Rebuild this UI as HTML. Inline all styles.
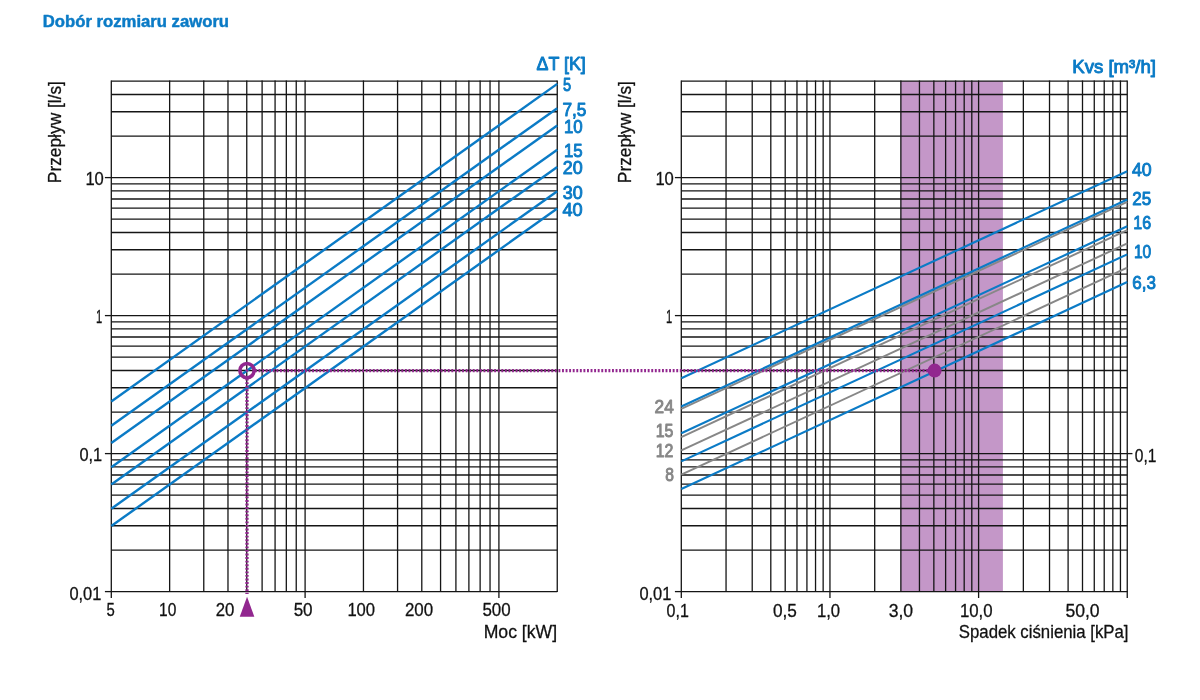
<!DOCTYPE html>
<html lang="pl"><head><meta charset="utf-8"><title>Dobór rozmiaru zaworu</title>
<style>
html,body{margin:0;padding:0;background:#fff;}
body{width:1200px;height:700px;overflow:hidden;}
svg{display:block;}
svg text{font-family:"Liberation Sans",sans-serif;}
</style></head><body>
<svg width="1200" height="700" viewBox="0 0 1200 700">
<rect width="1200" height="700" fill="#fff"/>
<rect x="900.72" y="81.10" width="102.18" height="510.50" fill="#c497c8"/>
<g stroke="#151515" stroke-width="1.3" fill="none">
<path d="M111.30 591.60H557.25"/>
<path d="M111.30 550.06H557.25"/>
<path d="M111.30 525.76H557.25"/>
<path d="M111.30 508.52H557.25"/>
<path d="M111.30 495.14H557.25"/>
<path d="M111.30 484.22H557.25"/>
<path d="M111.30 474.98H557.25"/>
<path d="M111.30 466.97H557.25"/>
<path d="M111.30 459.91H557.25"/>
<path d="M111.30 453.60H557.25"/>
<path d="M111.30 412.06H557.25"/>
<path d="M111.30 387.76H557.25"/>
<path d="M111.30 370.52H557.25"/>
<path d="M111.30 357.14H557.25"/>
<path d="M111.30 346.22H557.25"/>
<path d="M111.30 336.98H557.25"/>
<path d="M111.30 328.97H557.25"/>
<path d="M111.30 321.91H557.25"/>
<path d="M111.30 315.60H557.25"/>
<path d="M111.30 274.06H557.25"/>
<path d="M111.30 249.76H557.25"/>
<path d="M111.30 232.52H557.25"/>
<path d="M111.30 219.14H557.25"/>
<path d="M111.30 208.22H557.25"/>
<path d="M111.30 198.98H557.25"/>
<path d="M111.30 190.97H557.25"/>
<path d="M111.30 183.91H557.25"/>
<path d="M111.30 177.60H557.25"/>
<path d="M111.30 136.06H557.25"/>
<path d="M111.30 111.76H557.25"/>
<path d="M111.30 94.52H557.25"/>
<path d="M111.30 81.14H557.25"/>
</g>
<g stroke="#151515" stroke-width="1.3" fill="none">
<path d="M681.30 591.60H1127.25"/>
<path d="M681.30 550.06H1127.25"/>
<path d="M681.30 525.76H1127.25"/>
<path d="M681.30 508.52H1127.25"/>
<path d="M681.30 495.14H1127.25"/>
<path d="M681.30 484.22H1127.25"/>
<path d="M681.30 474.98H1127.25"/>
<path d="M681.30 466.97H1127.25"/>
<path d="M681.30 459.91H1127.25"/>
<path d="M681.30 453.60H1127.25"/>
<path d="M681.30 412.06H1127.25"/>
<path d="M681.30 387.76H1127.25"/>
<path d="M681.30 370.52H1127.25"/>
<path d="M681.30 357.14H1127.25"/>
<path d="M681.30 346.22H1127.25"/>
<path d="M681.30 336.98H1127.25"/>
<path d="M681.30 328.97H1127.25"/>
<path d="M681.30 321.91H1127.25"/>
<path d="M681.30 315.60H1127.25"/>
<path d="M681.30 274.06H1127.25"/>
<path d="M681.30 249.76H1127.25"/>
<path d="M681.30 232.52H1127.25"/>
<path d="M681.30 219.14H1127.25"/>
<path d="M681.30 208.22H1127.25"/>
<path d="M681.30 198.98H1127.25"/>
<path d="M681.30 190.97H1127.25"/>
<path d="M681.30 183.91H1127.25"/>
<path d="M681.30 177.60H1127.25"/>
<path d="M681.30 136.06H1127.25"/>
<path d="M681.30 111.76H1127.25"/>
<path d="M681.30 94.52H1127.25"/>
<path d="M681.30 81.14H1127.25"/>
</g>
<g stroke="#151515" stroke-width="1.3" fill="none">
<path d="M111.30 80.60V592.10"/>
<path d="M169.64 80.60V592.10"/>
<path d="M203.77 80.60V592.10"/>
<path d="M227.98 80.60V592.10"/>
<path d="M246.76 80.60V592.10"/>
<path d="M262.11 80.60V592.10"/>
<path d="M275.08 80.60V592.10"/>
<path d="M286.32 80.60V592.10"/>
<path d="M296.24 80.60V592.10"/>
<path d="M305.10 80.60V592.10"/>
<path d="M363.45 80.60V592.10"/>
<path d="M397.57 80.60V592.10"/>
<path d="M421.79 80.60V592.10"/>
<path d="M440.57 80.60V592.10"/>
<path d="M455.91 80.60V592.10"/>
<path d="M468.89 80.60V592.10"/>
<path d="M480.13 80.60V592.10"/>
<path d="M490.04 80.60V592.10"/>
<path d="M498.91 80.60V592.10"/>
<path d="M557.25 80.60V592.10"/>
<path d="M681.30 80.60V592.10"/>
<path d="M726.05 80.60V592.10"/>
<path d="M752.22 80.60V592.10"/>
<path d="M770.80 80.60V592.10"/>
<path d="M785.20 80.60V592.10"/>
<path d="M796.97 80.60V592.10"/>
<path d="M806.92 80.60V592.10"/>
<path d="M815.54 80.60V592.10"/>
<path d="M823.15 80.60V592.10"/>
<path d="M829.95 80.60V592.10"/>
<path d="M874.70 80.60V592.10"/>
<path d="M900.87 80.60V592.10"/>
<path d="M919.45 80.60V592.10"/>
<path d="M933.85 80.60V592.10"/>
<path d="M945.62 80.60V592.10"/>
<path d="M955.57 80.60V592.10"/>
<path d="M964.19 80.60V592.10"/>
<path d="M971.80 80.60V592.10"/>
<path d="M978.60 80.60V592.10"/>
<path d="M1023.35 80.60V592.10"/>
<path d="M1049.52 80.60V592.10"/>
<path d="M1068.10 80.60V592.10"/>
<path d="M1082.50 80.60V592.10"/>
<path d="M1094.27 80.60V592.10"/>
<path d="M1104.22 80.60V592.10"/>
<path d="M1112.84 80.60V592.10"/>
<path d="M1120.45 80.60V592.10"/>
<path d="M1127.25 80.60V592.10"/>
</g>
<g stroke="#151515" stroke-width="1.3" fill="none">
<path d="M104.90 177.60H111.30"/>
<path d="M104.90 315.60H111.30"/>
<path d="M104.90 453.60H111.30"/>
<path d="M104.90 591.60H111.30"/>
<path d="M674.90 177.60H681.30"/>
<path d="M674.90 315.60H681.30"/>
<path d="M674.90 591.60H681.30"/>
<path d="M1127.25 453.60H1132.45"/>
<path d="M111.30 591.60V598.00"/>
<path d="M305.10 591.60V598.00"/>
<path d="M498.91 591.60V598.00"/>
<path d="M681.30 591.60V598.00"/>
<path d="M829.95 591.60V598.00"/>
<path d="M978.60 591.60V598.00"/>
<path d="M1127.25 591.60V598.00"/>
</g>
<g stroke="#878787" stroke-width="1.95" fill="none">
<path d="M681.30 408.90L1127.25 201.90"/>
<path d="M681.30 437.07L1127.25 230.07"/>
<path d="M681.30 450.44L1127.25 243.44"/>
<path d="M681.30 474.74L1127.25 267.74"/>
</g>
<g stroke="#0b7bc6" stroke-width="2.4" fill="none">
<path d="M111.30 401.41L557.25 83.87"/>
<path d="M111.30 425.71L557.25 108.17"/>
<path d="M111.30 442.95L557.25 125.41"/>
<path d="M111.30 467.25L557.25 149.71"/>
<path d="M111.30 484.49L557.25 166.95"/>
<path d="M111.30 508.79L557.25 191.25"/>
<path d="M111.30 526.03L557.25 208.49"/>
</g>
<g stroke="#0b7bc6" stroke-width="2.15" fill="none">
<path d="M681.30 378.29L1127.25 171.29"/>
<path d="M681.30 406.45L1127.25 199.45"/>
<path d="M681.30 433.20L1127.25 226.20"/>
<path d="M681.30 461.37L1127.25 254.37"/>
<path d="M681.30 489.06L1127.25 282.06"/>
</g>
<line x1="255.00" y1="370.60" x2="934.60" y2="370.60" stroke="#92278f" stroke-width="3.2" stroke-dasharray="1.9 1.67"/>
<line x1="247.00" y1="378.60" x2="247.00" y2="594.00" stroke="#92278f" stroke-width="3.3" stroke-dasharray="1.9 1.67"/>
<circle cx="247.0" cy="370.6" r="7.1" fill="none" stroke="#92278f" stroke-width="3.6"/>
<circle cx="247.0" cy="370.6" r="1.4" fill="#92278f"/>
<circle cx="934.6" cy="370.6" r="7" fill="#92278f"/>
<path d="M239.75 616.7L247.05 596.7L254.35 616.7Z" fill="#92278f"/>
<text transform="matrix(1.0445 0 0 1 42.79 27.27)" font-size="15.99" font-weight="bold" fill="#0b7bc6" stroke="#0b7bc6" stroke-width="0.45" stroke-linejoin="round">Dobór rozmiaru zaworu</text>
<text transform="matrix(0.8605 0 0 1 85.38 185.05)" font-size="19.27" font-weight="normal" fill="#111" stroke="#111" stroke-width="0.3" stroke-linejoin="round">10</text>
<text transform="matrix(0.5810 0 0 1 95.94 323.25)" font-size="19.27" font-weight="normal" fill="#111" stroke="#111" stroke-width="0.3" stroke-linejoin="round">1</text>
<text transform="matrix(0.8490 0 0 1 79.38 461.45)" font-size="19.27" font-weight="normal" fill="#111" stroke="#111" stroke-width="0.3" stroke-linejoin="round">0,1</text>
<text transform="matrix(0.8517 0 0 1 69.38 599.85)" font-size="19.27" font-weight="normal" fill="#111" stroke="#111" stroke-width="0.3" stroke-linejoin="round">0,01</text>
<text transform="matrix(0.8605 0 0 1 655.38 185.05)" font-size="19.27" font-weight="normal" fill="#111" stroke="#111" stroke-width="0.3" stroke-linejoin="round">10</text>
<text transform="matrix(0.5810 0 0 1 665.94 323.25)" font-size="19.27" font-weight="normal" fill="#111" stroke="#111" stroke-width="0.3" stroke-linejoin="round">1</text>
<text transform="matrix(0.8517 0 0 1 639.38 599.85)" font-size="19.27" font-weight="normal" fill="#111" stroke="#111" stroke-width="0.3" stroke-linejoin="round">0,01</text>
<text transform="matrix(0.8084 0 0 1 1134.87 461.65)" font-size="19.27" font-weight="normal" fill="#111" stroke="#111" stroke-width="0.3" stroke-linejoin="round">0,1</text>
<text transform="matrix(0.7716 0 0 1 106.57 616.25)" font-size="19.27" font-weight="normal" fill="#111" stroke="#111" stroke-width="0.3" stroke-linejoin="round">5</text>
<text transform="matrix(0.8052 0 0 1 159.07 616.25)" font-size="19.27" font-weight="normal" fill="#111" stroke="#111" stroke-width="0.3" stroke-linejoin="round">10</text>
<text transform="matrix(0.8697 0 0 1 215.68 616.25)" font-size="19.27" font-weight="normal" fill="#111" stroke="#111" stroke-width="0.3" stroke-linejoin="round">20</text>
<text transform="matrix(0.8858 0 0 1 293.63 616.25)" font-size="19.27" font-weight="normal" fill="#111" stroke="#111" stroke-width="0.3" stroke-linejoin="round">50</text>
<text transform="matrix(0.8629 0 0 1 347.38 616.25)" font-size="19.27" font-weight="normal" fill="#111" stroke="#111" stroke-width="0.3" stroke-linejoin="round">100</text>
<text transform="matrix(0.8783 0 0 1 404.88 616.25)" font-size="19.27" font-weight="normal" fill="#111" stroke="#111" stroke-width="0.3" stroke-linejoin="round">200</text>
<text transform="matrix(0.8783 0 0 1 482.38 616.25)" font-size="19.27" font-weight="normal" fill="#111" stroke="#111" stroke-width="0.3" stroke-linejoin="round">500</text>
<text transform="matrix(0.9491 0 0 1 483.64 638.15)" font-size="18.58" font-weight="normal" fill="#111" stroke="#111" stroke-width="0.3" stroke-linejoin="round">Moc [kW]</text>
<text transform="matrix(0.8305 0 0 1 666.57 616.65)" font-size="19.27" font-weight="normal" fill="#111" stroke="#111" stroke-width="0.3" stroke-linejoin="round">0,1</text>
<text transform="matrix(0.8933 0 0 1 772.88 616.65)" font-size="19.27" font-weight="normal" fill="#111" stroke="#111" stroke-width="0.3" stroke-linejoin="round">0,5</text>
<text transform="matrix(0.8675 0 0 1 816.88 616.65)" font-size="19.27" font-weight="normal" fill="#111" stroke="#111" stroke-width="0.3" stroke-linejoin="round">1,0</text>
<text transform="matrix(0.9136 0 0 1 888.64 616.65)" font-size="19.27" font-weight="normal" fill="#111" stroke="#111" stroke-width="0.3" stroke-linejoin="round">3,0</text>
<text transform="matrix(0.8729 0 0 1 959.88 616.65)" font-size="19.27" font-weight="normal" fill="#111" stroke="#111" stroke-width="0.3" stroke-linejoin="round">10,0</text>
<text transform="matrix(0.9125 0 0 1 1065.39 616.65)" font-size="19.27" font-weight="normal" fill="#111" stroke="#111" stroke-width="0.3" stroke-linejoin="round">50,0</text>
<text transform="matrix(0.8970 0 0 1 958.78 638.15)" font-size="18.72" font-weight="normal" fill="#111" stroke="#111" stroke-width="0.3" stroke-linejoin="round">Spadek ciśnienia [kPa]</text>
<text transform="matrix(0 -0.9062 1 0 60.75 183.16)" font-size="19.13" font-weight="normal" fill="#111" stroke="#111" stroke-width="0.3" stroke-linejoin="round">Przepływ [l/s]</text>
<text transform="matrix(0 -0.9062 1 0 630.75 183.16)" font-size="19.13" font-weight="normal" fill="#111" stroke="#111" stroke-width="0.3" stroke-linejoin="round">Przepływ [l/s]</text>
<text transform="matrix(0.9486 0 0 1 536.60 70.12)" font-size="18.78" font-weight="normal" fill="#0b7bc6" stroke="#0b7bc6" stroke-width="0.95" stroke-linejoin="round">ΔT [K]</text>
<text transform="matrix(0.7974 0 0 1 562.93 90.73)" font-size="18.37" font-weight="normal" fill="#0b7bc6" stroke="#0b7bc6" stroke-width="0.95" stroke-linejoin="round">5</text>
<text transform="matrix(0.9404 0 0 1 562.40 115.53)" font-size="18.37" font-weight="normal" fill="#0b7bc6" stroke="#0b7bc6" stroke-width="0.95" stroke-linejoin="round">7,5</text>
<text transform="matrix(0.9170 0 0 1 563.89 132.53)" font-size="18.37" font-weight="normal" fill="#0b7bc6" stroke="#0b7bc6" stroke-width="0.95" stroke-linejoin="round">10</text>
<text transform="matrix(0.9170 0 0 1 563.89 157.12)" font-size="18.37" font-weight="normal" fill="#0b7bc6" stroke="#0b7bc6" stroke-width="0.95" stroke-linejoin="round">15</text>
<text transform="matrix(0.9732 0 0 1 562.71 174.43)" font-size="18.37" font-weight="normal" fill="#0b7bc6" stroke="#0b7bc6" stroke-width="0.95" stroke-linejoin="round">20</text>
<text transform="matrix(0.9732 0 0 1 562.71 199.12)" font-size="18.37" font-weight="normal" fill="#0b7bc6" stroke="#0b7bc6" stroke-width="0.95" stroke-linejoin="round">30</text>
<text transform="matrix(0.9872 0 0 1 562.42 215.53)" font-size="18.37" font-weight="normal" fill="#0b7bc6" stroke="#0b7bc6" stroke-width="0.95" stroke-linejoin="round">40</text>
<text transform="matrix(0.9846 0 0 1 1072.22 72.53)" font-size="18.92" font-weight="normal" fill="#0b7bc6" stroke="#0b7bc6" stroke-width="0.95" stroke-linejoin="round">Kvs [m³/h]</text>
<text transform="matrix(0.9638 0 0 1 1131.91 176.12)" font-size="18.37" font-weight="normal" fill="#0b7bc6" stroke="#0b7bc6" stroke-width="0.95" stroke-linejoin="round">40</text>
<text transform="matrix(0.9264 0 0 1 1132.29 204.93)" font-size="18.37" font-weight="normal" fill="#0b7bc6" stroke="#0b7bc6" stroke-width="0.95" stroke-linejoin="round">25</text>
<text transform="matrix(0.8749 0 0 1 1133.37 228.53)" font-size="18.37" font-weight="normal" fill="#0b7bc6" stroke="#0b7bc6" stroke-width="0.95" stroke-linejoin="round">16</text>
<text transform="matrix(0.8469 0 0 1 1133.95 257.92)" font-size="18.37" font-weight="normal" fill="#0b7bc6" stroke="#0b7bc6" stroke-width="0.95" stroke-linejoin="round">10</text>
<text transform="matrix(0.9253 0 0 1 1132.29 289.32)" font-size="18.37" font-weight="normal" fill="#0b7bc6" stroke="#0b7bc6" stroke-width="0.95" stroke-linejoin="round">6,3</text>
<text transform="matrix(0.9404 0 0 1 654.60 412.72)" font-size="18.37" font-weight="normal" fill="#878787" stroke="#878787" stroke-width="0.95" stroke-linejoin="round">24</text>
<text transform="matrix(0.8656 0 0 1 655.76 437.32)" font-size="18.37" font-weight="normal" fill="#878787" stroke="#878787" stroke-width="0.95" stroke-linejoin="round">15</text>
<text transform="matrix(0.8656 0 0 1 655.76 456.72)" font-size="18.37" font-weight="normal" fill="#878787" stroke="#878787" stroke-width="0.95" stroke-linejoin="round">12</text>
<text transform="matrix(0.8511 0 0 1 665.15 480.52)" font-size="18.37" font-weight="normal" fill="#878787" stroke="#878787" stroke-width="0.95" stroke-linejoin="round">8</text>
</svg>
</body></html>
